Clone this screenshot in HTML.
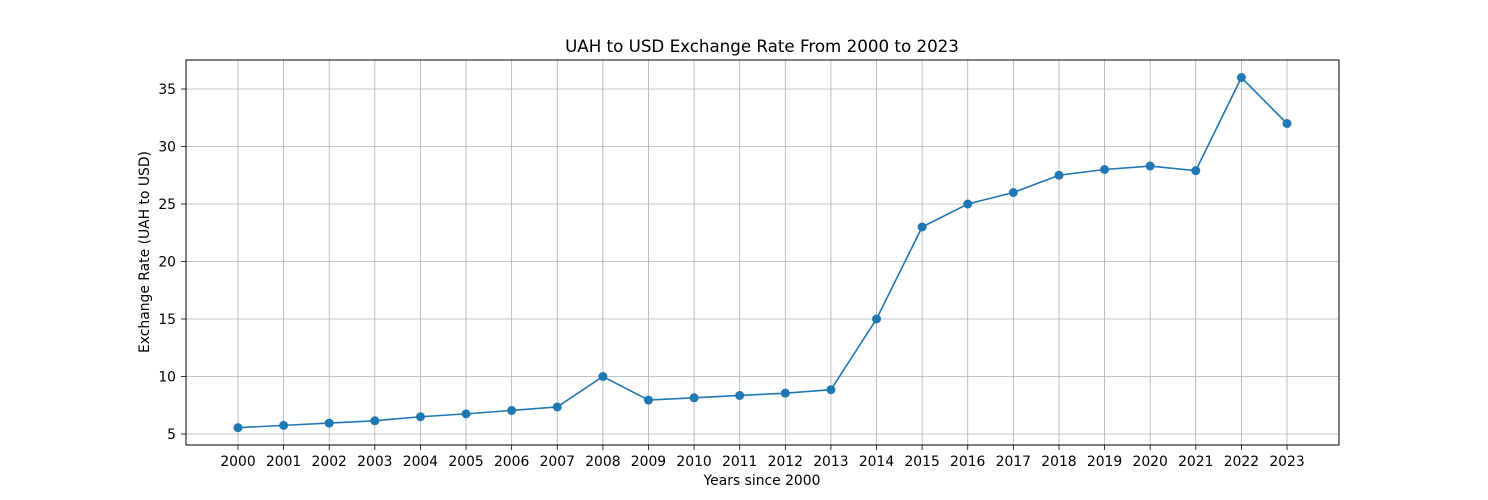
<!DOCTYPE html>
<html><head><meta charset="utf-8"><style>
html,body{margin:0;padding:0;background:#fff;}
svg{display:block;font-family:"DejaVu Sans","Liberation Sans",sans-serif;}
</style></head><body>
<svg id="chart" width="1488" height="500" viewBox="0 0 1488 500" xmlns="http://www.w3.org/2000/svg">
<rect width="1488" height="500" fill="#fff"/>
<g id="grid"></g>
<g id="ticks"></g>
<g id="series"></g>
<rect x="186" y="60" width="1153" height="385" fill="none" stroke="#000" stroke-width="1"/>
<text x="762" y="52" font-size="16.7" text-anchor="middle">UAH to USD Exchange Rate From 2000 to 2023</text>
<text x="762" y="485" font-size="13.9" text-anchor="middle">Years since 2000</text>
<text x="0" y="0" font-size="13.9" text-anchor="middle" transform="translate(149,252) rotate(-90)">Exchange Rate (UAH to USD)</text>
</svg>
<script>
const years = [2000,2001,2002,2003,2004,2005,2006,2007,2008,2009,2010,2011,2012,2013,2014,2015,2016,2017,2018,2019,2020,2021,2022,2023];
const rates = [5.55,5.75,5.95,6.15,6.5,6.75,7.05,7.35,10,7.95,8.15,8.35,8.55,8.85,15,23,25,26,27.5,28,28.3,27.9,36,32];
const yTicks = [5,10,15,20,25,30,35];
const NS="http://www.w3.org/2000/svg";
function xS(v){return 238+(v-2000)*(1287-238)/23;}
function yS(v){return 434-(v-5)*(345/30);}
function mk(tag,attrs,parent){const e=document.createElementNS(NS,tag);for(const k in attrs)e.setAttribute(k,attrs[k]);parent.appendChild(e);return e;}
const grid=document.getElementById('grid'),ticks=document.getElementById('ticks'),series=document.getElementById('series');
years.forEach(y=>{
  const x=xS(y);
  const g=mk('line',{x1:x,x2:x,y1:60,y2:445,stroke:'#b0b0b0','stroke-width':0.8},grid);
  
  
  const t=mk('line',{x1:x,x2:x,y1:445,y2:450,stroke:'#000','stroke-width':0.8},ticks);
  
  
  const l=mk('text',{x:x,y:466,'font-size':13.9,'text-anchor':'middle'},ticks);
  l.textContent=y;
  
  
});
yTicks.forEach(v=>{
  const y=yS(v);
  const g=mk('line',{x1:186,x2:1339,y1:y,y2:y,stroke:'#b0b0b0','stroke-width':0.8},grid);
  
  
  const t=mk('line',{x1:181,x2:186,y1:y,y2:y,stroke:'#000','stroke-width':0.8},ticks);
  
  
  const l=mk('text',{x:176,y:y+5,'font-size':13.9,'text-anchor':'end'},ticks);
  l.textContent=v;
  
  
});
const pts=years.map((y,i)=>xS(y)+','+yS(rates[i])).join(' ');
const line=mk('polyline',{points:pts,fill:'none',stroke:'#1f77b4','stroke-width':1.6},series);


years.forEach((y,i)=>{
  const c=mk('circle',{cx:xS(y),cy:yS(rates[i]),r:4.5,fill:'#1f77b4'},series);
  
  
});
</script>
</body></html>
